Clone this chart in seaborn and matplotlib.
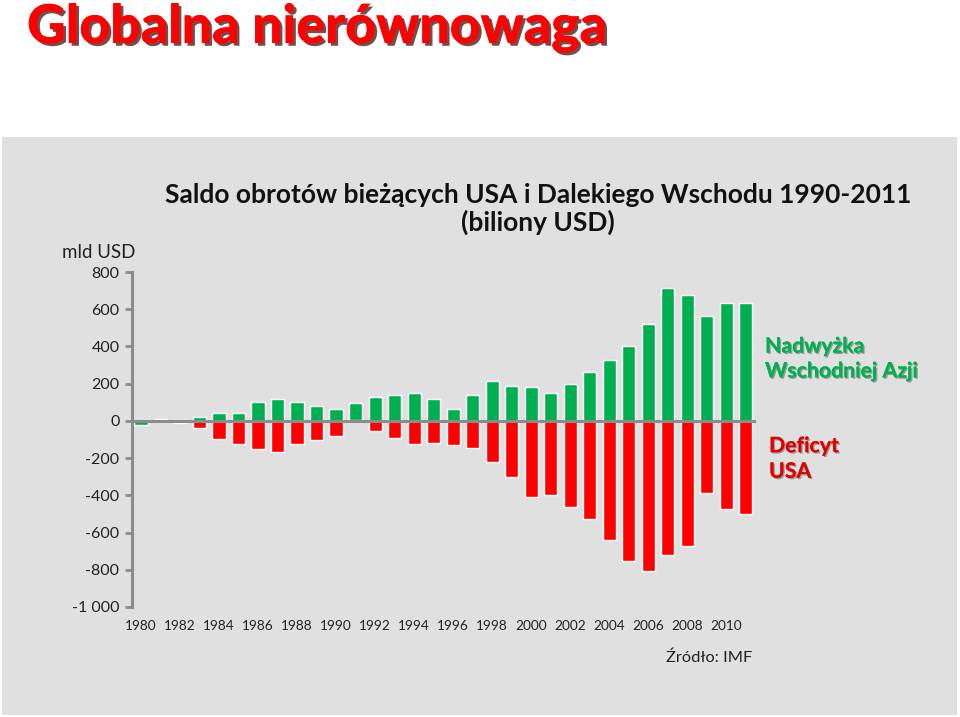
import matplotlib
matplotlib.use("Agg")
import matplotlib.pyplot as plt
import matplotlib.patheffects as pe
from matplotlib.patches import Rectangle
import seaborn as sns
import pandas as pd

years = list(range(1980, 2012))
east_asia_surplus = [-20, 8, 5, 23, 45, 45, 100, 115, 100, 79, 65, 95, 129, 138, 151, 115,
                     65, 138, 214, 187, 180, 150, 198, 264, 327, 404, 518, 715, 679, 566, 631, 636]
usa_deficit = [2, 5, -12, -39, -97, -124, -153, -167, -124, -102, -83, 3, -56, -90, -124, -117,
               -131, -146, -223, -300, -410, -398, -464, -525, -638, -751, -809, -722, -674, -385, -476, -498]
y_ticks = [800, 600, 400, 200, 0, -200, -400, -600, -800, -1000]
y_tick_labels = ["800", "600", "400", "200", "0", "-200", "-400", "-600", "-800", "-1 000"]
x_label_years = list(range(1980, 2011, 2))

GREEN = "#00B050"
RED = "#FF0000"
BG = "#E0E0E0"

sns.set_theme(style="white")
plt.rcParams['font.family'] = ['Lato', 'DejaVu Sans']

df = pd.DataFrame({"year": [str(y) for y in years],
                   "asia": east_asia_surplus,
                   "usa": usa_deficit})

fig = plt.figure(figsize=(9.6, 7.17), dpi=100)
fig.patches.append(Rectangle((0.002, 1 - 715 / 717), 0.995, (715 - 137) / 717,
                             transform=fig.transFigure, facecolor=BG, edgecolor="none", zorder=-10))

ax = fig.add_axes([132 / 960, 1 - 607 / 717, 624 / 960, (607 - 272) / 717])
ax.set_facecolor("none")
ax.set_zorder(5)

order = [str(y) for y in years]
sns.barplot(data=df, x="year", y="asia", order=order, color=GREEN, width=0.67,
            saturation=1, ax=ax, zorder=2)
sns.barplot(data=df, x="year", y="usa", order=order, color=RED, width=0.67,
            saturation=1, ax=ax, zorder=2)

ax.axhline(0, color="#8C8C8C", lw=2.2, zorder=3)
ax.set_ylim(-1000, 800)
ax.set_xlim(-0.46, 31.53)
ax.set_yticks(y_ticks)
ax.set_yticklabels(y_tick_labels, fontsize=11.5, color="#222222")
ax.set_xticks([years.index(y) for y in x_label_years])
ax.set_xticklabels([str(y) for y in x_label_years], fontsize=9.8, color="#222222")
ax.tick_params(axis="x", length=0, pad=9)
ax.tick_params(axis="y", left=True, length=5, width=2, color="#8C8C8C", pad=4)
ax.set_xlabel("")
ax.set_ylabel("")
for s in ["top", "right", "bottom"]:
    ax.spines[s].set_visible(False)
ax.spines["left"].set_color("#8C8C8C")
ax.spines["left"].set_linewidth(2.2)

# Texts
fig.text(27 / 960, 1 - 43 / 717, "Globalna nierównowaga", fontsize=38.5, fontweight="black",
         color=RED, ha="left", va="baseline",
         path_effects=[pe.withSimplePatchShadow(offset=(2, -2), shadow_rgbFace="#400000", alpha=0.7),
                       pe.Normal()])
fig.text(538 / 960, 1 - 231 / 717, "Saldo obrotów bieżących USA i Dalekiego Wschodu 1990-2011\n(biliony USD)",
         fontsize=19, fontweight="bold", color="#111111", ha="center", va="baseline",
         linespacing=1.12)
fig.text(99 / 960, 1 - 253 / 717, "mld USD", fontsize=13.5, color="#222222", ha="center", va="center")
fig.text(752 / 960, 1 - 658 / 717, "Źródło: IMF", fontsize=11.8, color="#222222", ha="right", va="center")
fig.text(765 / 960, 1 - 359 / 717, "Nadwyżka\nWschodniej Azji", fontsize=15.3, fontweight="bold",
         color=GREEN, ha="left", va="center", linespacing=1.3,
         path_effects=[pe.withSimplePatchShadow(offset=(1, -1), shadow_rgbFace="#555555", alpha=0.5),
                       pe.Normal()])
fig.text(769 / 960, 1 - 459 / 717, "Deficyt\nUSA", fontsize=15.3, fontweight="bold",
         color="#E00000", ha="left", va="center", linespacing=1.35,
         path_effects=[pe.withSimplePatchShadow(offset=(1, -1), shadow_rgbFace="#555555", alpha=0.5),
                       pe.Normal()])

fig.savefig("out.png", dpi=100, facecolor="white")
